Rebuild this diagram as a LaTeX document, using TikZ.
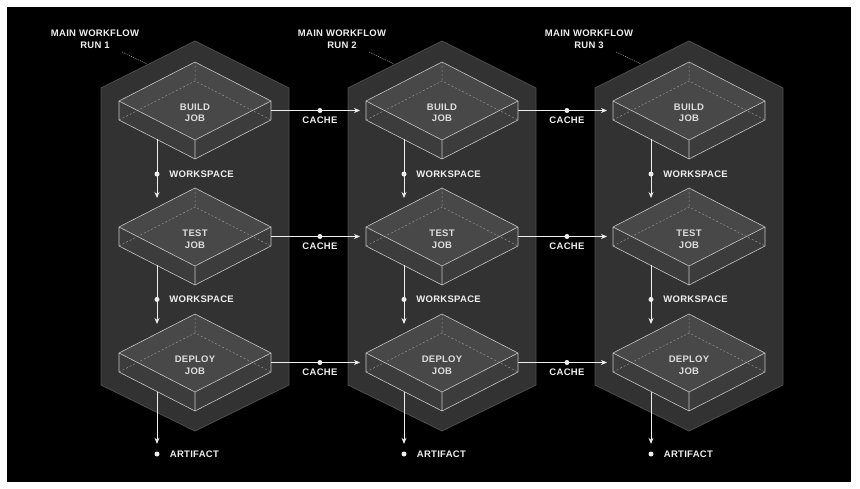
\documentclass[tikz,border=0pt]{standalone}
\usepackage{fontspec}
\setmainfont{Liberation Sans}
\newfontfamily\wffont{Liberation Sans}[LetterSpace=3]
\usetikzlibrary{arrows.meta,positioning}
\definecolor{hexfill}{HTML}{323232}
\definecolor{hexline}{HTML}{4E4E4E}
\definecolor{slabtop}{HTML}{484848}
\definecolor{slabside}{HTML}{3C3C3C}
\definecolor{slabedge}{HTML}{C4C4C4}
\definecolor{inktext}{HTML}{EEEEEE}

% one workflow run: hexagon, title and dotted leader
\newcommand{\runhex}[2]{%
  \begin{scope}[shift={(#1,0)}]
    \filldraw[hexbox] (0,41) -- (94,88) -- (94,385) -- (0,431) -- (-94,385) -- (-94,88) -- cycle;
    \node[title] (run#2) at (-100,39) {MAIN WORKFLOW\\RUN #2};
    \coordinate (lead#2) at (-73,52);
    \coordinate (edge#2) at (-48,64);
    \draw[leader] (lead#2) -- (edge#2);
  \end{scope}}

% one job as a flat slab: name, center x, top y, text
\newcommand{\jobslab}[4]{%
  \begin{scope}[shift={(#2,#3)}]
    \fill[slabside] (-76,39) -- (0,78) -- (76,39) -- (76,58) -- (0,97) -- (-76,58) -- cycle;
    \fill[slabtop] (0,0) -- (76,39) -- (0,78) -- (-76,39) -- cycle;
    \draw[hidden] (0,0) -- (0,19) (-76,58) -- (0,19) -- (76,58);
    \draw[slabline] (0,0) -- (76,39) -- (0,78) -- (-76,39) -- cycle
      (-76,39) -- (-76,58) -- (0,97) -- (76,58) -- (76,39)
      (0,78) -- (0,97);
    \node[joblabel] (#1) at (0,51) {#4};
    \coordinate (#1-in) at (-38,10);
    \coordinate (#1-out) at (-38,77.5);
    \coordinate (#1-w) at (-82,48.5);
    \coordinate (#1-e) at (76,48.5);
  \end{scope}}

\begin{document}
\begin{tikzpicture}[
  x=1pt,y=-1pt,
  hexbox/.style={fill=hexfill,draw=hexline,line width=0.8pt},
  title/.style={font={\wffont\bfseries\fontsize{9.5}{12}\selectfont},text=inktext,
                align=center,inner sep=0pt},
  leader/.style={draw=gray!80,dash pattern=on 1pt off 1pt,line width=0.6pt},
  slabline/.style={draw=slabedge,line width=0.6pt,line join=round},
  hidden/.style={draw=slabedge!75!black,dash pattern=on 2pt off 2pt,line width=0.5pt},
  joblabel/.style={font={\wffont\bfseries\fontsize{9.5}{11.5}\selectfont},
                   text=inktext!90!slabtop,align=center,inner sep=0pt},
  flow/.style={draw=inktext,line width=0.8pt,-{Stealth[length=6pt,width=5pt]}},
  dot/.style={circle,fill=inktext,inner sep=0pt,minimum size=5pt},
  lbl/.style={font={\wffont\bfseries\fontsize{9.5}{11}\selectfont},text=inktext,inner sep=0pt}]
\fill[white] (0,0) rectangle (860,489);
\fill[black] (7,7) rectangle (851,482);

\runhex{195}{1}
\runhex{442}{2}
\runhex{689}{3}

\jobslab{build1}{195}{62}{BUILD\\JOB}
\jobslab{test1}{195}{188}{TEST\\JOB}
\jobslab{deploy1}{195}{314}{DEPLOY\\JOB}
\jobslab{build2}{442}{62}{BUILD\\JOB}
\jobslab{test2}{442}{188}{TEST\\JOB}
\jobslab{deploy2}{442}{314}{DEPLOY\\JOB}
\jobslab{build3}{689}{62}{BUILD\\JOB}
\jobslab{test3}{689}{188}{TEST\\JOB}
\jobslab{deploy3}{689}{314}{DEPLOY\\JOB}

% workspace hand-offs inside a run
\draw[flow] (build1-out) -- node[dot,pos=.59]{} node[lbl,pos=.59,right=12pt]{WORKSPACE} (test1-in);
\draw[flow] (test1-out) -- node[dot,pos=.58]{} node[lbl,pos=.58,right=12pt]{WORKSPACE} (deploy1-in);
\draw[flow] (build2-out) -- node[dot,pos=.59]{} node[lbl,pos=.59,right=12pt]{WORKSPACE} (test2-in);
\draw[flow] (test2-out) -- node[dot,pos=.58]{} node[lbl,pos=.58,right=12pt]{WORKSPACE} (deploy2-in);
\draw[flow] (build3-out) -- node[dot,pos=.59]{} node[lbl,pos=.59,right=12pt]{WORKSPACE} (test3-in);
\draw[flow] (test3-out) -- node[dot,pos=.58]{} node[lbl,pos=.58,right=12pt]{WORKSPACE} (deploy3-in);

% cache between runs
\draw[flow] (build1-e) -- node[dot,pos=.55]{} node[lbl,pos=.55,below=6pt]{CACHE} (build2-w);
\draw[flow] (test1-e) -- node[dot,pos=.55]{} node[lbl,pos=.55,below=6pt]{CACHE} (test2-w);
\draw[flow] (deploy1-e) -- node[dot,pos=.55]{} node[lbl,pos=.55,below=6pt]{CACHE} (deploy2-w);
\draw[flow] (build2-e) -- node[dot,pos=.55]{} node[lbl,pos=.55,below=6pt]{CACHE} (build3-w);
\draw[flow] (test2-e) -- node[dot,pos=.55]{} node[lbl,pos=.55,below=6pt]{CACHE} (test3-w);
\draw[flow] (deploy2-e) -- node[dot,pos=.55]{} node[lbl,pos=.55,below=6pt]{CACHE} (deploy3-w);

% artifacts
\node[dot] (art1) at (157,454) {};
\node[dot] (art2) at (404,454) {};
\node[dot] (art3) at (651,454) {};
\node[lbl,right=10pt of art1] {ARTIFACT};
\node[lbl,right=10pt of art2] {ARTIFACT};
\node[lbl,right=10pt of art3] {ARTIFACT};
\draw[flow,shorten >=7.5pt] (deploy1-out) -- (art1);
\draw[flow,shorten >=7.5pt] (deploy2-out) -- (art2);
\draw[flow,shorten >=7.5pt] (deploy3-out) -- (art3);
\end{tikzpicture}
\end{document}
